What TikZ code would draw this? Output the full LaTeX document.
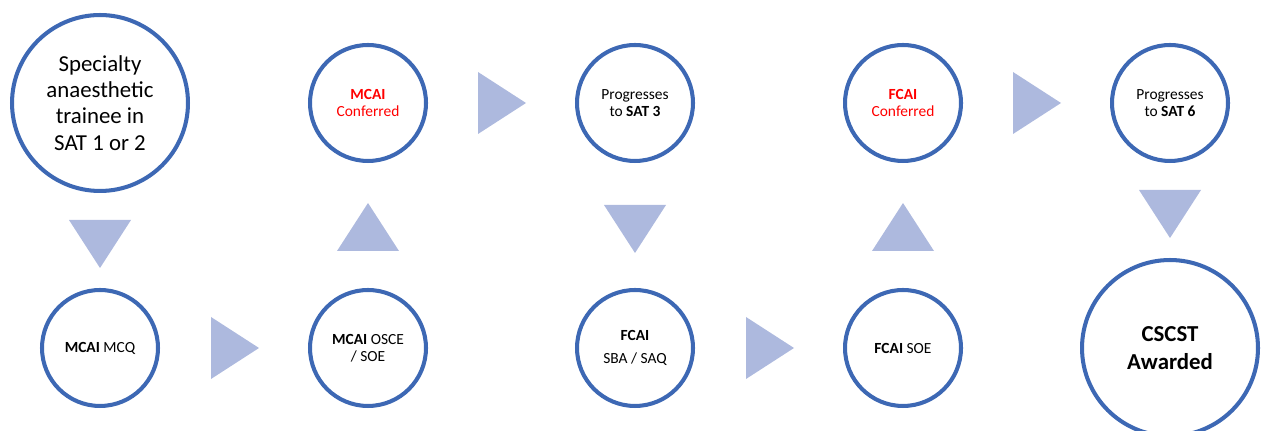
\documentclass[tikz,border=0pt]{standalone}
\usepackage{fontspec}
\setmainfont{Carlito}
\definecolor{ringblue}{RGB}{61,104,180}
\definecolor{arrowfill}{RGB}{173,185,222}
\definecolor{conferred}{RGB}{255,0,0}
\tikzset{
  stage/.style={circle, draw=ringblue, line width=2.3pt, fill=white, minimum size=2.32cm, inner sep=0pt, align=center, font=\fontsize{8.8}{9.5}\selectfont},
  bigstage/.style={stage, minimum size=3.52cm, font=\fontsize{13}{14.9}\selectfont},
  tridown/.pic={\fill[arrowfill] (-31,-24) -- (31,-24) -- (0,24) -- cycle;},
  triup/.pic={\fill[arrowfill] (-31,24) -- (31,24) -- (0,-24) -- cycle;},
  triright/.pic={\fill[arrowfill] (-24,-31) -- (-24,31) -- (24,0) -- cycle;}
}

\begin{document}
\begin{tikzpicture}[x=0.02cm,y=-0.02cm]
\useasboundingbox (0,0) rectangle (1261,431);
\draw (100,103) node[bigstage] (start) {Specialty\\anaesthetic\\trainee in\\SAT 1 or 2}
(100,348) node[stage] (mcq) {\textbf{MCAI} MCQ}
(368,348) node[stage] (osce) {\textbf{MCAI} OSCE\\/ SOE}
(368,103) node[stage, text=conferred] (mcai) {\textbf{MCAI}\\Conferred}
(635,103) node[stage] (sat3) {Progresses\\to \textbf{SAT 3}}
(635,348) node[stage] (sba) {\textbf{FCAI}\\[4pt]SBA / SAQ}
(903,348) node[stage] (soe) {\textbf{FCAI} SOE}
(903,103) node[stage, text=conferred] (fcai) {\textbf{FCAI}\\Conferred}
(1170,103) node[stage] (sat6) {Progresses\\to \textbf{SAT 6}}
(1170,348) node[bigstage, font=\fontsize{13}{15.7}\selectfont\bfseries] (cscst) {CSCST\\Awarded};
%vertical
\pic at (100,244) {tridown};
\pic at (368,227) {triup};
\pic at (635,229) {tridown};
\pic at (903,227) {triup};
\pic at (1170,214) {tridown};
%horizontal
\pic at (235,348) {triright};
\pic at (770,348) {triright};
\pic at (502,103) {triright};
\pic at (1037,103) {triright};
\end{tikzpicture}
\end{document}
